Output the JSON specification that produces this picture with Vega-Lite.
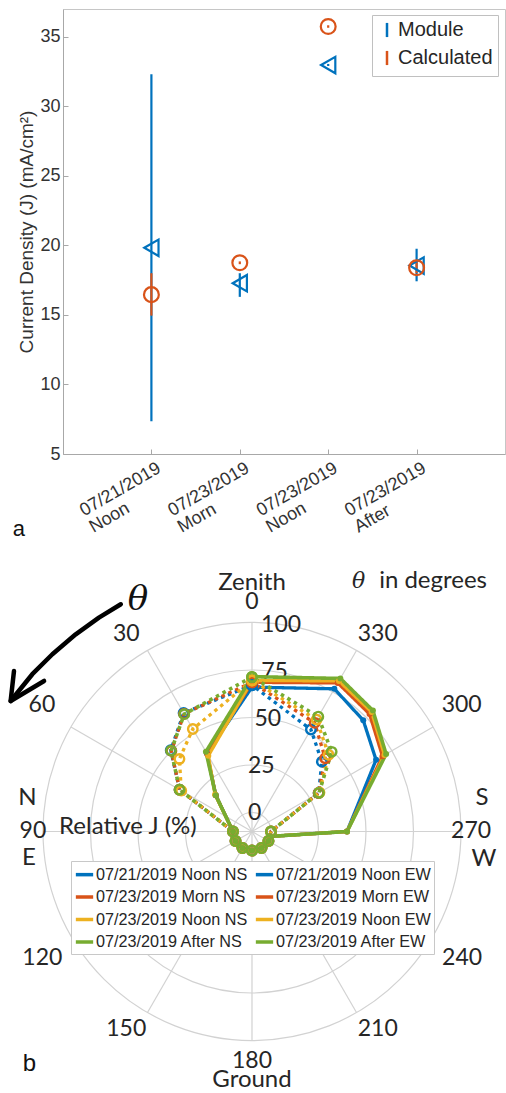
{
  "$schema": "https://vega.github.io/schema/vega-lite/v6.json",
  "background": "white",
  "padding": {"left": 8, "top": 8, "right": 0, "bottom": 0},
  "autosize": {"type": "pad"},
  "bounds": "flush",
  "spacing": 0,
  "resolve": {"scale": {"color": "independent"}, "legend": {"color": "independent"}},
  "config": {"font": "Liberation Sans", "view": {"stroke": null}},
  "datasets": {
    "polar": [
      {"series": "07/21/2019 Noon NS", "dir": "NS", "theta": 0, "r": 66},
      {"series": "07/21/2019 Noon NS", "dir": "NS", "theta": 30, "r": 37.5},
      {"series": "07/21/2019 Noon NS", "dir": "NS", "theta": 45, "r": 17},
      {"series": "07/21/2019 Noon NS", "dir": "NS", "theta": 90, "r": 0},
      {"series": "07/21/2019 Noon NS", "dir": "NS", "theta": 105, "r": 0},
      {"series": "07/21/2019 Noon NS", "dir": "NS", "theta": 120, "r": 0},
      {"series": "07/21/2019 Noon NS", "dir": "NS", "theta": 135, "r": 0},
      {"series": "07/21/2019 Noon NS", "dir": "NS", "theta": 150, "r": 0},
      {"series": "07/21/2019 Noon NS", "dir": "NS", "theta": 165, "r": 0},
      {"series": "07/21/2019 Noon NS", "dir": "NS", "theta": 180, "r": 0},
      {"series": "07/21/2019 Noon NS", "dir": "NS", "theta": 195, "r": 0},
      {"series": "07/21/2019 Noon NS", "dir": "NS", "theta": 210, "r": 0},
      {"series": "07/21/2019 Noon NS", "dir": "NS", "theta": 225, "r": 0},
      {"series": "07/21/2019 Noon NS", "dir": "NS", "theta": 240, "r": 0},
      {"series": "07/21/2019 Noon NS", "dir": "NS", "theta": 255, "r": 0},
      {"series": "07/21/2019 Noon NS", "dir": "NS", "theta": 270, "r": 40},
      {"series": "07/21/2019 Noon NS", "dir": "NS", "theta": 300, "r": 65.4},
      {"series": "07/21/2019 Noon NS", "dir": "NS", "theta": 315, "r": 72.8},
      {"series": "07/21/2019 Noon NS", "dir": "NS", "theta": 330, "r": 76.7},
      {"series": "07/21/2019 Noon NS", "dir": "NS", "theta": 360, "r": 66},

      {"series": "07/21/2019 Noon EW", "dir": "EW", "theta": 0, "r": 67},
      {"series": "07/21/2019 Noon EW", "dir": "EW", "theta": 30, "r": 62},
      {"series": "07/21/2019 Noon EW", "dir": "EW", "theta": 45, "r": 50.5},
      {"series": "07/21/2019 Noon EW", "dir": "EW", "theta": 60, "r": 34},
      {"series": "07/21/2019 Noon EW", "dir": "EW", "theta": 90, "r": 0},
      {"series": "07/21/2019 Noon EW", "dir": "EW", "theta": 120, "r": 0},
      {"series": "07/21/2019 Noon EW", "dir": "EW", "theta": 150, "r": 0},
      {"series": "07/21/2019 Noon EW", "dir": "EW", "theta": 180, "r": 0},
      {"series": "07/21/2019 Noon EW", "dir": "EW", "theta": 210, "r": 0},
      {"series": "07/21/2019 Noon EW", "dir": "EW", "theta": 240, "r": 0},
      {"series": "07/21/2019 Noon EW", "dir": "EW", "theta": 270, "r": 0},
      {"series": "07/21/2019 Noon EW", "dir": "EW", "theta": 300, "r": 30.5},
      {"series": "07/21/2019 Noon EW", "dir": "EW", "theta": 315, "r": 42},
      {"series": "07/21/2019 Noon EW", "dir": "EW", "theta": 330, "r": 52},
      {"series": "07/21/2019 Noon EW", "dir": "EW", "theta": 360, "r": 67},

      {"series": "07/23/2019 Morn NS", "dir": "NS", "theta": 0, "r": 68.5},
      {"series": "07/23/2019 Morn NS", "dir": "NS", "theta": 30, "r": 37},
      {"series": "07/23/2019 Morn NS", "dir": "NS", "theta": 45, "r": 17},
      {"series": "07/23/2019 Morn NS", "dir": "NS", "theta": 90, "r": 0},
      {"series": "07/23/2019 Morn NS", "dir": "NS", "theta": 105, "r": 0},
      {"series": "07/23/2019 Morn NS", "dir": "NS", "theta": 120, "r": 0},
      {"series": "07/23/2019 Morn NS", "dir": "NS", "theta": 135, "r": 0},
      {"series": "07/23/2019 Morn NS", "dir": "NS", "theta": 150, "r": 0},
      {"series": "07/23/2019 Morn NS", "dir": "NS", "theta": 165, "r": 0},
      {"series": "07/23/2019 Morn NS", "dir": "NS", "theta": 180, "r": 0},
      {"series": "07/23/2019 Morn NS", "dir": "NS", "theta": 195, "r": 0},
      {"series": "07/23/2019 Morn NS", "dir": "NS", "theta": 210, "r": 0},
      {"series": "07/23/2019 Morn NS", "dir": "NS", "theta": 225, "r": 0},
      {"series": "07/23/2019 Morn NS", "dir": "NS", "theta": 240, "r": 0},
      {"series": "07/23/2019 Morn NS", "dir": "NS", "theta": 255, "r": 0},
      {"series": "07/23/2019 Morn NS", "dir": "NS", "theta": 270, "r": 40},
      {"series": "07/23/2019 Morn NS", "dir": "NS", "theta": 300, "r": 69.3},
      {"series": "07/23/2019 Morn NS", "dir": "NS", "theta": 315, "r": 77.5},
      {"series": "07/23/2019 Morn NS", "dir": "NS", "theta": 330, "r": 80.3},
      {"series": "07/23/2019 Morn NS", "dir": "NS", "theta": 360, "r": 68.5},

      {"series": "07/23/2019 Morn EW", "dir": "EW", "theta": 0, "r": 68.5},
      {"series": "07/23/2019 Morn EW", "dir": "EW", "theta": 30, "r": 61.5},
      {"series": "07/23/2019 Morn EW", "dir": "EW", "theta": 45, "r": 50},
      {"series": "07/23/2019 Morn EW", "dir": "EW", "theta": 60, "r": 34},
      {"series": "07/23/2019 Morn EW", "dir": "EW", "theta": 90, "r": 0},
      {"series": "07/23/2019 Morn EW", "dir": "EW", "theta": 120, "r": 0},
      {"series": "07/23/2019 Morn EW", "dir": "EW", "theta": 150, "r": 0},
      {"series": "07/23/2019 Morn EW", "dir": "EW", "theta": 180, "r": 0},
      {"series": "07/23/2019 Morn EW", "dir": "EW", "theta": 210, "r": 0},
      {"series": "07/23/2019 Morn EW", "dir": "EW", "theta": 240, "r": 0},
      {"series": "07/23/2019 Morn EW", "dir": "EW", "theta": 270, "r": 0},
      {"series": "07/23/2019 Morn EW", "dir": "EW", "theta": 300, "r": 30.5},
      {"series": "07/23/2019 Morn EW", "dir": "EW", "theta": 315, "r": 44.5},
      {"series": "07/23/2019 Morn EW", "dir": "EW", "theta": 330, "r": 56},
      {"series": "07/23/2019 Morn EW", "dir": "EW", "theta": 360, "r": 68.5},

      {"series": "07/23/2019 Noon NS", "dir": "NS", "theta": 0, "r": 69.5},
      {"series": "07/23/2019 Noon NS", "dir": "NS", "theta": 30, "r": 36},
      {"series": "07/23/2019 Noon NS", "dir": "NS", "theta": 45, "r": 17.5},
      {"series": "07/23/2019 Noon NS", "dir": "NS", "theta": 90, "r": 0},
      {"series": "07/23/2019 Noon NS", "dir": "NS", "theta": 105, "r": 0},
      {"series": "07/23/2019 Noon NS", "dir": "NS", "theta": 120, "r": 0},
      {"series": "07/23/2019 Noon NS", "dir": "NS", "theta": 135, "r": 0},
      {"series": "07/23/2019 Noon NS", "dir": "NS", "theta": 150, "r": 0},
      {"series": "07/23/2019 Noon NS", "dir": "NS", "theta": 165, "r": 0},
      {"series": "07/23/2019 Noon NS", "dir": "NS", "theta": 180, "r": 0},
      {"series": "07/23/2019 Noon NS", "dir": "NS", "theta": 195, "r": 0},
      {"series": "07/23/2019 Noon NS", "dir": "NS", "theta": 210, "r": 0},
      {"series": "07/23/2019 Noon NS", "dir": "NS", "theta": 225, "r": 0},
      {"series": "07/23/2019 Noon NS", "dir": "NS", "theta": 240, "r": 0},
      {"series": "07/23/2019 Noon NS", "dir": "NS", "theta": 255, "r": 0},
      {"series": "07/23/2019 Noon NS", "dir": "NS", "theta": 270, "r": 40},
      {"series": "07/23/2019 Noon NS", "dir": "NS", "theta": 300, "r": 70.5},
      {"series": "07/23/2019 Noon NS", "dir": "NS", "theta": 315, "r": 79},
      {"series": "07/23/2019 Noon NS", "dir": "NS", "theta": 330, "r": 81.5},
      {"series": "07/23/2019 Noon NS", "dir": "NS", "theta": 360, "r": 69.5},

      {"series": "07/23/2019 Noon EW", "dir": "EW", "theta": 0, "r": 69.5},
      {"series": "07/23/2019 Noon EW", "dir": "EW", "theta": 30, "r": 52.3},
      {"series": "07/23/2019 Noon EW", "dir": "EW", "theta": 45, "r": 44},
      {"series": "07/23/2019 Noon EW", "dir": "EW", "theta": 60, "r": 33},
      {"series": "07/23/2019 Noon EW", "dir": "EW", "theta": 90, "r": 0},
      {"series": "07/23/2019 Noon EW", "dir": "EW", "theta": 120, "r": 0},
      {"series": "07/23/2019 Noon EW", "dir": "EW", "theta": 150, "r": 0},
      {"series": "07/23/2019 Noon EW", "dir": "EW", "theta": 180, "r": 0},
      {"series": "07/23/2019 Noon EW", "dir": "EW", "theta": 210, "r": 0},
      {"series": "07/23/2019 Noon EW", "dir": "EW", "theta": 240, "r": 0},
      {"series": "07/23/2019 Noon EW", "dir": "EW", "theta": 270, "r": 0},
      {"series": "07/23/2019 Noon EW", "dir": "EW", "theta": 300, "r": 31},
      {"series": "07/23/2019 Noon EW", "dir": "EW", "theta": 315, "r": 47},
      {"series": "07/23/2019 Noon EW", "dir": "EW", "theta": 330, "r": 58},
      {"series": "07/23/2019 Noon EW", "dir": "EW", "theta": 360, "r": 69.5},

      {"series": "07/23/2019 After NS", "dir": "NS", "theta": 0, "r": 71.5},
      {"series": "07/23/2019 After NS", "dir": "NS", "theta": 30, "r": 38.5},
      {"series": "07/23/2019 After NS", "dir": "NS", "theta": 45, "r": 17},
      {"series": "07/23/2019 After NS", "dir": "NS", "theta": 90, "r": 0},
      {"series": "07/23/2019 After NS", "dir": "NS", "theta": 105, "r": 0},
      {"series": "07/23/2019 After NS", "dir": "NS", "theta": 120, "r": 0},
      {"series": "07/23/2019 After NS", "dir": "NS", "theta": 135, "r": 0},
      {"series": "07/23/2019 After NS", "dir": "NS", "theta": 150, "r": 0},
      {"series": "07/23/2019 After NS", "dir": "NS", "theta": 165, "r": 0},
      {"series": "07/23/2019 After NS", "dir": "NS", "theta": 180, "r": 0},
      {"series": "07/23/2019 After NS", "dir": "NS", "theta": 195, "r": 0},
      {"series": "07/23/2019 After NS", "dir": "NS", "theta": 210, "r": 0},
      {"series": "07/23/2019 After NS", "dir": "NS", "theta": 225, "r": 0},
      {"series": "07/23/2019 After NS", "dir": "NS", "theta": 240, "r": 0},
      {"series": "07/23/2019 After NS", "dir": "NS", "theta": 255, "r": 0},
      {"series": "07/23/2019 After NS", "dir": "NS", "theta": 270, "r": 40},
      {"series": "07/23/2019 After NS", "dir": "NS", "theta": 300, "r": 71.5},
      {"series": "07/23/2019 After NS", "dir": "NS", "theta": 315, "r": 80},
      {"series": "07/23/2019 After NS", "dir": "NS", "theta": 330, "r": 83},
      {"series": "07/23/2019 After NS", "dir": "NS", "theta": 360, "r": 71.5},

      {"series": "07/23/2019 After EW", "dir": "EW", "theta": 0, "r": 71.3},
      {"series": "07/23/2019 After EW", "dir": "EW", "theta": 30, "r": 61.3},
      {"series": "07/23/2019 After EW", "dir": "EW", "theta": 45, "r": 50.2},
      {"series": "07/23/2019 After EW", "dir": "EW", "theta": 60, "r": 34},
      {"series": "07/23/2019 After EW", "dir": "EW", "theta": 90, "r": 0},
      {"series": "07/23/2019 After EW", "dir": "EW", "theta": 120, "r": 0},
      {"series": "07/23/2019 After EW", "dir": "EW", "theta": 150, "r": 0},
      {"series": "07/23/2019 After EW", "dir": "EW", "theta": 180, "r": 0},
      {"series": "07/23/2019 After EW", "dir": "EW", "theta": 210, "r": 0},
      {"series": "07/23/2019 After EW", "dir": "EW", "theta": 240, "r": 0},
      {"series": "07/23/2019 After EW", "dir": "EW", "theta": 270, "r": 0},
      {"series": "07/23/2019 After EW", "dir": "EW", "theta": 300, "r": 30.7},
      {"series": "07/23/2019 After EW", "dir": "EW", "theta": 315, "r": 49.3},
      {"series": "07/23/2019 After EW", "dir": "EW", "theta": 330, "r": 59.8},
      {"series": "07/23/2019 After EW", "dir": "EW", "theta": 360, "r": 71.3}
    ],
    "angles": [
      {"theta": 0}, {"theta": 30}, {"theta": 60}, {"theta": 90}, {"theta": 120}, {"theta": 150},
      {"theta": 180}, {"theta": 210}, {"theta": 240}, {"theta": 270}, {"theta": 300}, {"theta": 330}
    ],
    "rings": [{"ring": 0}, {"ring": 25}, {"ring": 50}, {"ring": 75}, {"ring": 100}],
    "notes": [
      {"label": "Zenith", "px": 0, "py": 130.8},
      {"label": "Ground", "px": 0, "py": -130.9},
      {"label": "in degrees", "px": 95.3, "py": 131.8},
      {"label": "N", "px": -118.2, "py": 17.4},
      {"label": "E", "px": -117.4, "py": -13.9},
      {"label": "S", "px": 121.1, "py": 17.6},
      {"label": "W", "px": 122.1, "py": -14.5},
      {"label": "Relative J (%)", "px": -65.3, "py": 2.4}
    ]
  },
  "vconcat": [
    {
      "width": 442,
      "height": 445,
      "view": {"stroke": "#c6c6c6", "strokeWidth": 1},
      "encoding": {
        "x": {
          "field": "cat",
          "type": "quantitative",
          "scale": {"domain": [0, 5], "nice": false, "zero": false},
          "axis": {
            "values": [1, 2, 3, 4],
            "labelExpr": "datum.value == 1 ? ['07/21/2019', 'Noon'] : datum.value == 2 ? ['07/23/2019', 'Morn'] : datum.value == 3 ? ['07/23/2019', 'Noon'] : ['07/23/2019', 'After']",
            "labelAngle": -30,
            "labelAlign": "left",
            "labelBaseline": "top",
            "labelOffset": -75,
            "labelPadding": 55,
            "labelFontSize": 18,
            "labelLineHeight": 19,
            "labelFlush": false,
            "labelOverlap": false,
            "labelBound": false,
            "labelColor": "#333333",
            "ticks": true,
            "tickSize": -5,
            "tickColor": "#a8a8a8",
            "grid": false,
            "title": null,
            "domainColor": "#a8a8a8"
          }
        }
      },
      "layer": [
        {
          "data": {
            "values": [
              {"cat": 1, "type": "Module", "val": 19.83, "lo": 7.35, "hi": 32.3},
              {"cat": 2, "type": "Module", "val": 17.28, "lo": 16.3, "hi": 18.0},
              {"cat": 3, "type": "Module", "val": 32.97, "lo": 32.9, "hi": 33.05},
              {"cat": 4, "type": "Module", "val": 18.55, "lo": 17.42, "hi": 19.76},
              {"cat": 1, "type": "Calculated", "val": 16.46, "lo": 14.95, "hi": 18.0},
              {"cat": 2, "type": "Calculated", "val": 18.75, "lo": 18.65, "hi": 18.85},
              {"cat": 3, "type": "Calculated", "val": 35.74, "lo": 35.65, "hi": 35.83},
              {"cat": 4, "type": "Calculated", "val": 18.39, "lo": 18.0, "hi": 18.8}
            ]
          },
          "layer": [
            {
              "mark": {"type": "rule", "strokeWidth": 2.2},
              "encoding": {
                "y": {
                  "field": "lo",
                  "type": "quantitative",
                  "title": "Current Density (J) (mA/cm²)",
                  "scale": {"domain": [5, 37], "nice": false, "zero": false},
                  "axis": {
                    "values": [5, 10, 15, 20, 25, 30, 35],
                    "labelFontSize": 18,
                    "labelPadding": 8,
                    "labelColor": "#333333",
                    "ticks": true,
                    "tickSize": -5,
                    "tickColor": "#a8a8a8",
                    "grid": false,
                    "domainColor": "#a8a8a8",
                    "titleFontSize": 19,
                    "titleFontWeight": "normal",
                    "titleColor": "#333333",
                    "titlePadding": 3
                  }
                },
                "y2": {"field": "hi"},
                "color": {
                  "field": "type",
                  "type": "nominal",
                  "scale": {"domain": ["Module", "Calculated"], "range": ["#0072BD", "#D95319"]},
                  "legend": {
                    "orient": "none",
                    "legendX": 309,
                    "legendY": 6,
                    "title": null,
                    "symbolType": "M0,-1L0,1",
                    "symbolSize": 200,
                    "symbolStrokeWidth": 2.5,
                    "labelFontSize": 20,
                    "labelColor": "#262626",
                    "labelOffset": 1,
                    "labelLimit": 120,
                    "strokeColor": "#c0c0c0",
                    "fillColor": "white",
                    "padding": 5,
                    "rowPadding": 2
                  }
                }
              }
            },
            {
              "transform": [{"filter": "datum.type === 'Module'"}],
              "mark": {"type": "point", "shape": "triangle-left", "filled": false, "size": 270, "strokeWidth": 2.2, "opacity": 1},
              "encoding": {
                "y": {"field": "val", "type": "quantitative", "title": "Current Density (J) (mA/cm²)"},
                "color": {"field": "type", "type": "nominal"}
              }
            },
            {
              "transform": [{"filter": "datum.type === 'Calculated'"}],
              "mark": {"type": "point", "shape": "circle", "filled": false, "size": 220, "strokeWidth": 2.2, "opacity": 1},
              "encoding": {
                "y": {"field": "val", "type": "quantitative", "title": "Current Density (J) (mA/cm²)"},
                "color": {"field": "type", "type": "nominal"}
              }
            }
          ]
        },
        {
          "data": {"values": [{"label": "a", "cat": -0.5, "val": -0.4}]},
          "mark": {"type": "text", "fontSize": 22, "color": "#111111", "baseline": "middle", "align": "center"},
          "encoding": {
            "y": {"field": "val", "type": "quantitative", "title": "Current Density (J) (mA/cm²)"},
            "text": {"field": "label"}
          }
        }
      ]
    },
    {
      "width": 442,
      "height": 635,
      "encoding": {
        "x": {"field": "px", "type": "quantitative", "scale": {"domain": [-99.47, 133.16], "nice": false, "zero": false}, "axis": null},
        "y": {"field": "py", "type": "quantitative", "scale": {"domain": [-135.53, 198.68], "nice": false, "zero": false}, "axis": null}
      },
      "layer": [
        {
          "data": {"name": "rings"},
          "transform": [
            {"calculate": "0", "as": "px"},
            {"calculate": "0", "as": "py"},
            {"calculate": "datum.ring + 10", "as": "rr"}
          ],
          "mark": {"type": "point", "shape": "circle", "filled": false, "color": "#d2d2d2", "strokeWidth": 1.2, "opacity": 1},
          "encoding": {
            "size": {"field": "rr", "type": "quantitative", "scale": {"type": "pow", "exponent": 2, "domain": [0, 110], "range": [0, 174724]}, "legend": null}
          }
        },
        {
          "data": {"name": "angles"},
          "transform": [
            {"calculate": "0", "as": "px"},
            {"calculate": "0", "as": "py"},
            {"calculate": "-110 * sin(datum.theta * PI / 180)", "as": "ex"},
            {"calculate": "110 * cos(datum.theta * PI / 180)", "as": "ey"}
          ],
          "mark": {"type": "rule", "color": "#d2d2d2", "strokeWidth": 1.2},
          "encoding": {"x2": {"field": "ex"}, "y2": {"field": "ey"}}
        },
        {
          "data": {"name": "angles"},
          "transform": [
            {"calculate": "datum.theta % 180", "as": "a"},
            {"calculate": "datum.a == 0 ? 121 : datum.a == 90 ? 115.3 : (datum.a == 60 || datum.a == 120) ? 129 : 123.2", "as": "L"},
            {"calculate": "datum.a == 30 ? 2.5 : datum.a == 150 ? -2.5 : datum.a == 60 ? -1 : datum.a == 120 ? 1.2 : 0", "as": "shift"},
            {"calculate": "-datum.L * sin((datum.theta + datum.shift) * PI / 180)", "as": "px"},
            {"calculate": "datum.L * cos((datum.theta + datum.shift) * PI / 180)", "as": "py"}
          ],
          "mark": {"type": "text", "font": "Lato", "fontSize": 23, "color": "#262626", "baseline": "middle", "align": "center"},
          "encoding": {"text": {"field": "theta", "type": "nominal"}}
        },
        {
          "data": {"name": "rings"},
          "transform": [
            {"calculate": "-(datum.ring + 10) * sin(352 * PI / 180)", "as": "px"},
            {"calculate": "(datum.ring + 10) * cos(352 * PI / 180)", "as": "py"}
          ],
          "mark": {"type": "text", "font": "Lato", "fontSize": 23, "color": "#262626", "baseline": "middle", "align": "center"},
          "encoding": {"text": {"field": "ring", "type": "nominal"}}
        },
        {
          "data": {"name": "polar"},
          "transform": [
            {"filter": "indexof(datum.series, 'After') < 0"},
            {"calculate": "-(datum.r + 10) * sin(datum.theta * PI / 180)", "as": "px"},
            {"calculate": "(datum.r + 10) * cos(datum.theta * PI / 180)", "as": "py"}
          ],
          "mark": {"type": "line", "strokeWidth": 3.3},
          "encoding": {
            "order": {"field": "theta", "type": "quantitative"},
            "color": {
              "field": "series",
              "type": "nominal",
              "scale": {
                "domain": ["07/21/2019 Noon NS", "07/23/2019 Morn NS", "07/23/2019 Noon NS", "07/23/2019 After NS", "07/21/2019 Noon EW", "07/23/2019 Morn EW", "07/23/2019 Noon EW", "07/23/2019 After EW"],
                "range": ["#0072BD", "#D95319", "#EDB120", "#77AC30", "#0072BD", "#D95319", "#EDB120", "#77AC30"]
              },
              "legend": {
                "orient": "none",
                "legendX": 8,
                "legendY": 407,
                "columns": 2,
                "title": null,
                "symbolType": "stroke",
                "symbolSize": 300,
                "symbolStrokeWidth": 3.5,
                "labelFont": "Liberation Sans",
                "labelFontSize": 16.2,
                "labelColor": "#262626",
                "labelLimit": 300,
                "labelOffset": 1,
                "strokeColor": "#c8c8c8",
                "fillColor": "white",
                "padding": 3,
                "rowPadding": 3.5,
                "columnPadding": 0
              }
            },
            "strokeDash": {
              "field": "series",
              "type": "nominal",
              "scale": {
                "domain": ["07/21/2019 Noon NS", "07/23/2019 Morn NS", "07/23/2019 Noon NS", "07/23/2019 After NS", "07/21/2019 Noon EW", "07/23/2019 Morn EW", "07/23/2019 Noon EW", "07/23/2019 After EW"],
                "range": [[1, 0], [1, 0], [1, 0], [1, 0], [3.5, 4], [3.5, 4], [3.5, 4], [3.5, 4]]
              }
            }
          }
        },
        {
          "data": {"name": "polar"},
          "transform": [
            {"filter": "indexof(datum.series, 'After') >= 0"},
            {"calculate": "-(datum.r + 10) * sin(datum.theta * PI / 180)", "as": "px"},
            {"calculate": "(datum.r + 10) * cos(datum.theta * PI / 180)", "as": "py"}
          ],
          "mark": {"type": "line", "strokeWidth": 3.6},
          "encoding": {
            "order": {"field": "theta", "type": "quantitative"},
            "color": {"field": "series", "type": "nominal"},
            "strokeDash": {"field": "series", "type": "nominal"}
          }
        },
        {
          "data": {"name": "polar"},
          "transform": [
            {"filter": "datum.dir === 'NS'"},
            {"calculate": "-(datum.r + 10) * sin(datum.theta * PI / 180)", "as": "px"},
            {"calculate": "(datum.r + 10) * cos(datum.theta * PI / 180)", "as": "py"}
          ],
          "mark": {"type": "point", "shape": "circle", "filled": true, "size": 36, "opacity": 1},
          "encoding": {"color": {"field": "series", "type": "nominal"}}
        },
        {
          "data": {"name": "polar"},
          "transform": [
            {"filter": "datum.dir === 'EW'"},
            {"calculate": "-(datum.r + 10) * sin(datum.theta * PI / 180)", "as": "px"},
            {"calculate": "(datum.r + 10) * cos(datum.theta * PI / 180)", "as": "py"}
          ],
          "mark": {"type": "point", "shape": "circle", "filled": false, "size": 90, "strokeWidth": 2.4, "opacity": 1},
          "encoding": {"color": {"field": "series", "type": "nominal"}}
        },
        {
          "data": {
            "values": [
              {"part": "shaft", "k": 0, "theta": 30.0, "r": 128.1},
              {"part": "shaft", "k": 1, "theta": 35.6, "r": 128.4},
              {"part": "shaft", "k": 2, "theta": 41.8, "r": 129.2},
              {"part": "shaft", "k": 3, "theta": 48.4, "r": 130.5},
              {"part": "shaft", "k": 4, "theta": 54.4, "r": 132.2},
              {"part": "shaft", "k": 5, "theta": 61.6, "r": 134.4},
              {"part": "head", "k": 0, "theta": 56.0, "r": 141.1},
              {"part": "head", "k": 1, "theta": 61.6, "r": 134.4},
              {"part": "head", "k": 2, "theta": 54.1, "r": 125.1}
            ]
          },
          "transform": [
            {"calculate": "-(datum.r + 10) * sin(datum.theta * PI / 180)", "as": "px"},
            {"calculate": "(datum.r + 10) * cos(datum.theta * PI / 180)", "as": "py"}
          ],
          "mark": {"type": "line", "color": "#000000", "strokeWidth": 4.5, "strokeCap": "round", "strokeJoin": "round"},
          "encoding": {"detail": {"field": "part"}, "order": {"field": "k", "type": "quantitative"}}
        },
        {
          "data": {"name": "notes"},
          "mark": {"type": "text", "font": "Lato", "fontSize": 24, "color": "#262626", "baseline": "middle", "align": "center"},
          "encoding": {"text": {"field": "label"}}
        },
        {
          "data": {"values": [{"label": "θ", "px": 56.1, "py": 131.8}]},
          "mark": {"type": "text", "font": "DejaVu Serif", "fontStyle": "italic", "fontSize": 22, "color": "#262626", "baseline": "middle", "align": "center"},
          "encoding": {"text": {"field": "label"}}
        },
        {
          "data": {"values": [{"label": "θ", "px": -60, "py": 121.8}]},
          "mark": {"type": "text", "font": "DejaVu Serif", "fontStyle": "italic", "fontSize": 34, "color": "#111111", "baseline": "middle", "align": "center"},
          "encoding": {"text": {"field": "label"}}
        },
        {
          "data": {"values": [{"label": "b", "px": -117.1, "py": -122.4}]},
          "mark": {"type": "text", "fontSize": 24, "color": "#111111", "baseline": "middle", "align": "center"},
          "encoding": {"text": {"field": "label"}}
        }
      ]
    }
  ]
}
